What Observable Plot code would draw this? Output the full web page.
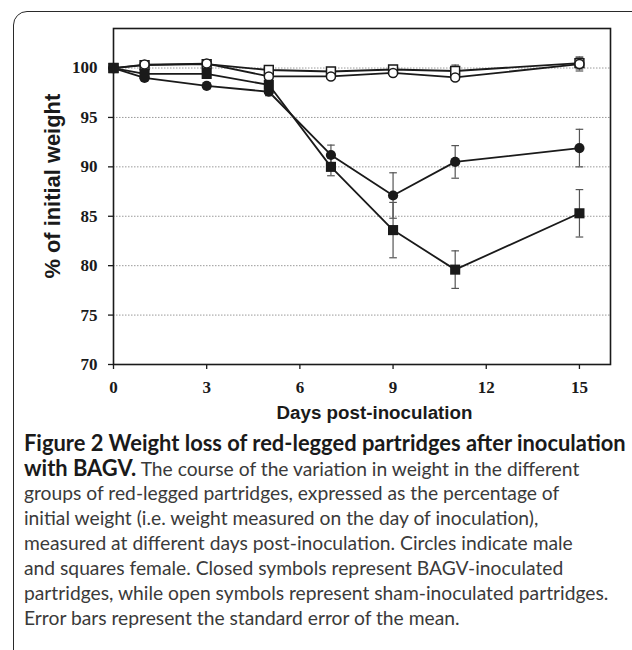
<!DOCTYPE html>
<html>
<head>
<meta charset="utf-8">
<script src="https://cdn.jsdelivr.net/npm/d3@7"></script>
<script src="https://cdn.jsdelivr.net/npm/@observablehq/plot@0.6"></script>
<style>
  html, body { margin: 0; padding: 0; background: white; overflow: hidden; width: 632px; height: 650px; }
  #page { position: relative; width: 632px; height: 650px; }
  #box { position: absolute; left: 13px; top: 11px; width: 700px; height: 720px; border: 1.5px solid #2a2a2a; border-radius: 14px; box-sizing: border-box; pointer-events: none; }
  #chart { position: absolute; left: 0; top: 0; }
  #caption { position: absolute; left: 24px; white-space: nowrap; color: #3a3a3a; font-family: Lato, "Liberation Sans", sans-serif; }
  #caption div { height: 25px; line-height: 25px; }
  #caption b { color: #1a1a1a; font-weight: bold; }
</style>
</head>
<body>
<div id="page">
  <div id="box"></div>
  <div id="chart"></div>
  <div id="caption"></div>
</div>
<script>
// ---- data ----
const days = [0, 1, 3, 5, 7, 9, 11, 15];

const femaleInoculated   = [100, 99.4, 99.4, 98.3, 90.0, 83.6, 79.6, 85.3];
const femaleInoculatedSE = [0, 0.3, 0.3, 0.4, 0.9, 2.8, 1.9, 2.4];

const maleInoculated     = [100, 99.0, 98.2, 97.6, 91.2, 87.1, 90.5, 91.9];
const maleInoculatedSE   = [0, 0.3, 0.3, 0.4, 1.0, 2.3, 1.65, 1.9];

const femaleSham         = [100, 100.3, 100.4, 99.8, 99.65, 99.85, 99.7, 100.5];
const femaleShamSE       = [0, 0.3, 0.3, 0.3, 0.3, 0.35, 0.6, 0.6];

const maleSham           = [100, 100.35, 100.45, 99.15, 99.15, 99.5, 99.05, 100.4];
const maleShamSE         = [0, 0.3, 0.3, 0.3, 0.3, 0.3, 0.3, 0.7];

const xTicks = [0, 3, 6, 9, 12, 15];
const yTicks = [70, 75, 80, 85, 90, 95, 100];
const gridLines = [75, 80, 85, 90, 95, 100];

const xLabel = "Days post-inoculation";
const yLabel = "% of initial weight";

const captionBold = ["Figure 2 Weight loss of red-legged partridges after inoculation", "with BAGV."];
const captionLines = [
  " The course of the variation in weight in the different",
  "groups of red-legged partridges, expressed as the percentage of",
  "initial weight (i.e. weight measured on the day of inoculation),",
  "measured at different days post-inoculation. Circles indicate male",
  "and squares female. Closed symbols represent BAGV-inoculated",
  "partridges, while open symbols represent sham-inoculated partridges.",
  "Error bars represent the standard error of the mean."
];

// ---- build rows ----
function rowsFor(group, values, se) {
  return days.map((d, i) => ({ group, day: d, value: values[i], se: se[i] }));
}
const fInoc = rowsFor("female-inoculated", femaleInoculated, femaleInoculatedSE);
const mInoc = rowsFor("male-inoculated", maleInoculated, maleInoculatedSE);
const fSham = rowsFor("female-sham", femaleSham, femaleShamSE);
const mSham = rowsFor("male-sham", maleSham, maleShamSE);
const all = [...fSham, ...mSham, ...mInoc, ...fInoc];
const withErr = all.filter(d => d.se > 0);

// ---- text sizing helpers ----
const ctx = document.createElement("canvas").getContext("2d");
function widthAt(text, weight, family, size) {
  ctx.font = `${weight} ${size}px ${family}`;
  return ctx.measureText(text).width;
}
const sansBold = '"Liberation Sans", Arial, sans-serif';
const xLabelSize = 100 * 196 / widthAt(xLabel, "bold", sansBold, 100);
const yLabelSize = 100 * 185 / widthAt(yLabel, "bold", sansBold, 100);

const capSymbol = {
  draw(context, size) {
    const r = Math.sqrt(size / Math.PI);
    context.moveTo(-r, 0);
    context.lineTo(r, 0);
  }
};

const tickFont = '"Liberation Serif", "Times New Roman", serif';

const chart = Plot.plot({
  width: 632,
  height: 420,
  marginLeft: 113,
  marginRight: 22,
  marginTop: 28,
  marginBottom: 56,
  style: { background: "transparent", overflow: "visible" },
  x: { domain: [0, 16] },
  y: { domain: [70, 104] },
  marks: [
    Plot.ruleY(gridLines, { stroke: "#9a9a9a", strokeWidth: 1, strokeDasharray: "1.5,1.5" }),
    Plot.line(all, { x: "day", y: "value", z: "group", stroke: "#1a1a1a", strokeWidth: 1.8 }),
    Plot.ruleX(withErr, { x: "day", y1: d => d.value - d.se, y2: d => d.value + d.se, stroke: "#555", strokeWidth: 1.2 }),
    Plot.dot(withErr, { x: "day", y: d => d.value + d.se, symbol: capSymbol, r: 3.8, stroke: "#555", strokeWidth: 1.2 }),
    Plot.dot(withErr, { x: "day", y: d => d.value - d.se, symbol: capSymbol, r: 3.8, stroke: "#555", strokeWidth: 1.2 }),
    Plot.dot(fSham, { x: "day", y: "value", symbol: "square", r: 5.0, fill: "white", stroke: "#1a1a1a", strokeWidth: 1.5 }),
    Plot.dot(mSham, { x: "day", y: "value", symbol: "circle", r: 4.5, fill: "white", stroke: "#1a1a1a", strokeWidth: 1.5 }),
    Plot.dot(mInoc, { x: "day", y: "value", symbol: "circle", r: 5.1, fill: "#1a1a1a", stroke: "none" }),
    Plot.dot(fInoc, { x: "day", y: "value", symbol: "square", r: 5.7, fill: "#1a1a1a", stroke: "none" }),
    Plot.frame({ stroke: "#1a1a1a", strokeWidth: 1.6 }),
    Plot.axisX({ ticks: xTicks, tickSize: 5, tickPadding: 11, label: null, fontFamily: tickFont, fontWeight: "bold", fontSize: 17, fill: "#1a1a1a", stroke: "#1a1a1a", strokeWidth: 1.3 }),
    Plot.axisY({ ticks: yTicks, tickSize: 5, tickPadding: 11, label: null, fontFamily: tickFont, fontWeight: "bold", fontSize: 17, fill: "#1a1a1a", stroke: "#1a1a1a", strokeWidth: 1.3 }),
    Plot.text([xLabel], { frameAnchor: "bottom", textAnchor: "middle", lineAnchor: "middle", dx: 12.5, dy: 48, text: d => d, fontFamily: sansBold, fontWeight: "bold", fontSize: xLabelSize, fill: "#1a1a1a" }),
    Plot.text([yLabel], { frameAnchor: "left", textAnchor: "middle", lineAnchor: "middle", rotate: -90, dx: -61, dy: -10.3, text: d => d, fontFamily: sansBold, fontWeight: "bold", fontSize: yLabelSize, fill: "#1a1a1a" })
  ]
});
document.getElementById("chart").appendChild(chart);

// ---- caption ----
const capFamily = 'Lato, "Liberation Sans", sans-serif';
const boldSize = 100 * 603 / widthAt(captionBold[0], "bold", capFamily, 100);
const regTargets = [573, 571, 595, 575, 597, 437];
let regSize = Infinity;
captionLines.slice(1).forEach((t, i) => {
  regSize = Math.min(regSize, 100 * regTargets[i] / widthAt(t, "normal", capFamily, 100));
});

const cap = document.getElementById("caption");
cap.style.fontSize = regSize + "px";
const l1 = document.createElement("div");
l1.innerHTML = `<b style="font-size:${boldSize}px">${captionBold[0]}</b>`;
cap.appendChild(l1);
const l2 = document.createElement("div");
l2.innerHTML = `<b style="font-size:${boldSize}px">${captionBold[1]}</b>${captionLines[0]}`;
cap.appendChild(l2);
captionLines.slice(1).forEach(t => {
  const d = document.createElement("div");
  d.textContent = t;
  cap.appendChild(d);
});
// place first baseline at y = 450
ctx.font = `normal ${regSize}px ${capFamily}`;
const m = ctx.measureText("Hg");
const asc = m.fontBoundingBoxAscent || regSize * 0.99;
const desc = m.fontBoundingBoxDescent || regSize * 0.21;
const baselineInBox = (25 - (asc + desc)) / 2 + asc;
cap.style.top = (450 - baselineInBox) + "px";
</script>
</body>
</html>
